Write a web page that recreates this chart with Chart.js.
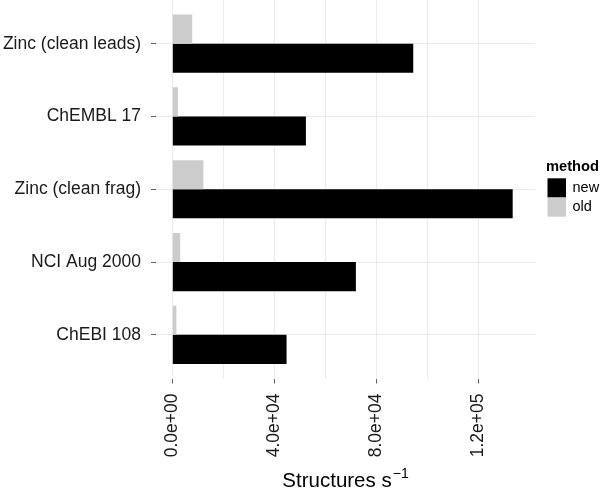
<!DOCTYPE html>
<html><head><meta charset="utf-8">
<script src="https://cdn.jsdelivr.net/npm/chart.js@4/dist/chart.umd.min.js"></script>
<style>html,body{margin:0;padding:0;background:#fff}canvas{display:block}</style>
</head><body>
<canvas id="c" width="600" height="491"></canvas>
<script>
const categories = ['Zinc (clean leads)', 'ChEMBL 17', 'Zinc (clean frag)', 'NCI Aug 2000', 'ChEBI 108'];
const newValues = [94500, 52400, 133500, 72000, 44800];
const oldValues = [7800, 2200, 12200, 3100, 1600];
const xTickValues = [0, 40000, 80000, 120000];
const xTickLabels = ['0.0e+00', '4.0e+04', '8.0e+04', '1.2e+05'];
const xMinorValues = [20000, 60000, 100000];
const legendTitle = 'method';
const seriesNames = ['old', 'new'];
const xTitle = 'Structures s';
const xTitleSup = '\u22121';

const FAMILY = "'Liberation Sans', Arial, Helvetica, sans-serif";

const legendPlugin = {
  id: 'ggLegend',
  afterDraw(chart) {
    const ctx = chart.ctx;
    ctx.save();
    ctx.textAlign = 'left';
    ctx.fillStyle = '#000';
    ctx.font = 'bold 14.7px ' + FAMILY;
    ctx.textBaseline = 'alphabetic';
    ctx.fillText(legendTitle, 546, 170.5);
    const order = [1, 0];
    order.forEach((di, k) => {
      const ds = chart.data.datasets[di];
      const y = 178.3 + k * 19.2;
      ctx.fillStyle = ds.backgroundColor;
      ctx.fillRect(547.5, y, 18.5, 19.2);
      ctx.fillStyle = '#000';
      ctx.font = '14.5px ' + FAMILY;
      ctx.textBaseline = 'middle';
      ctx.fillText(ds.label, 572.5, y + 9.8);
    });
    ctx.restore();
  }
};

const xTitlePlugin = {
  id: 'xTitle',
  afterDraw(chart) {
    const ctx = chart.ctx;
    const area = chart.chartArea;
    ctx.save();
    ctx.fillStyle = '#000';
    ctx.textBaseline = 'alphabetic';
    ctx.textAlign = 'left';
    const mainFont = '20.5px ' + FAMILY;
    const supFont = '14px ' + FAMILY;
    ctx.font = mainFont;
    const w1 = ctx.measureText(xTitle).width;
    ctx.font = supFont;
    const w2 = ctx.measureText(xTitleSup).width;
    const total = w1 + 1 + w2;
    const cx = (area.left + area.right) / 2;
    const x0 = cx - total / 2;
    const base = 486.5;
    ctx.font = mainFont;
    ctx.fillText(xTitle, x0, base);
    ctx.font = supFont;
    ctx.fillText(xTitleSup, x0 + w1 + 1, base - 9);
    ctx.restore();
  }
};

new Chart(document.getElementById('c'), {
  type: 'bar',
  data: {
    labels: categories,
    datasets: [
      { label: seriesNames[0], data: oldValues, backgroundColor: '#cccccc', borderWidth: 0 },
      { label: seriesNames[1], data: newValues, backgroundColor: '#000000', borderWidth: 0 }
    ]
  },
  options: {
    indexAxis: 'y',
    responsive: false,
    devicePixelRatio: 1,
    animation: false,
    categoryPercentage: 0.8,
    barPercentage: 1.0,
    layout: { padding: { left: 0, right: 65, top: 0, bottom: 0 } },
    plugins: { legend: { display: false }, tooltip: { enabled: false } },
    scales: {
      x: {
        type: 'linear',
        min: -6400,
        max: 142250,
        afterBuildTicks: s => {
          s.ticks = xTickValues.concat(xMinorValues).sort((a, b) => a - b).map(v => ({ value: v }));
        },
        afterFit: s => { s.height = 112.5; s.paddingLeft = 0; s.paddingRight = 0; },
        border: { display: false },
        grid: {
          color: '#ebebeb',
          lineWidth: 1,
          tickLength: 5,
          tickColor: ctx => (ctx.tick && xTickValues.includes(ctx.tick.value)) ? '#666666' : 'rgba(0,0,0,0)'
        },
        ticks: {
          autoSkip: false,
          minRotation: 90,
          maxRotation: 90,
          padding: 10,
          color: '#1a1a1a',
          font: { family: FAMILY, size: 17.5 },
          callback: v => { const i = xTickValues.indexOf(v); return i >= 0 ? xTickLabels[i] : ''; }
        }
      },
      y: {
        type: 'category',
        afterBuildTicks: s => { s._startValue = -0.6; s._valueRange = categories.length - 1 + 1.2; },
        afterFit: s => { s.width = 156; s.paddingTop = 0; s.paddingBottom = 0; },
        border: { display: false },
        grid: { offset: false, color: '#ebebeb', lineWidth: 1, tickLength: 5, tickColor: '#666666' },
        ticks: { autoSkip: false, padding: 10, color: '#1a1a1a', font: { family: FAMILY, size: 17.5 } }
      }
    }
  },
  plugins: [legendPlugin, xTitlePlugin]
});
</script>
</body></html>
